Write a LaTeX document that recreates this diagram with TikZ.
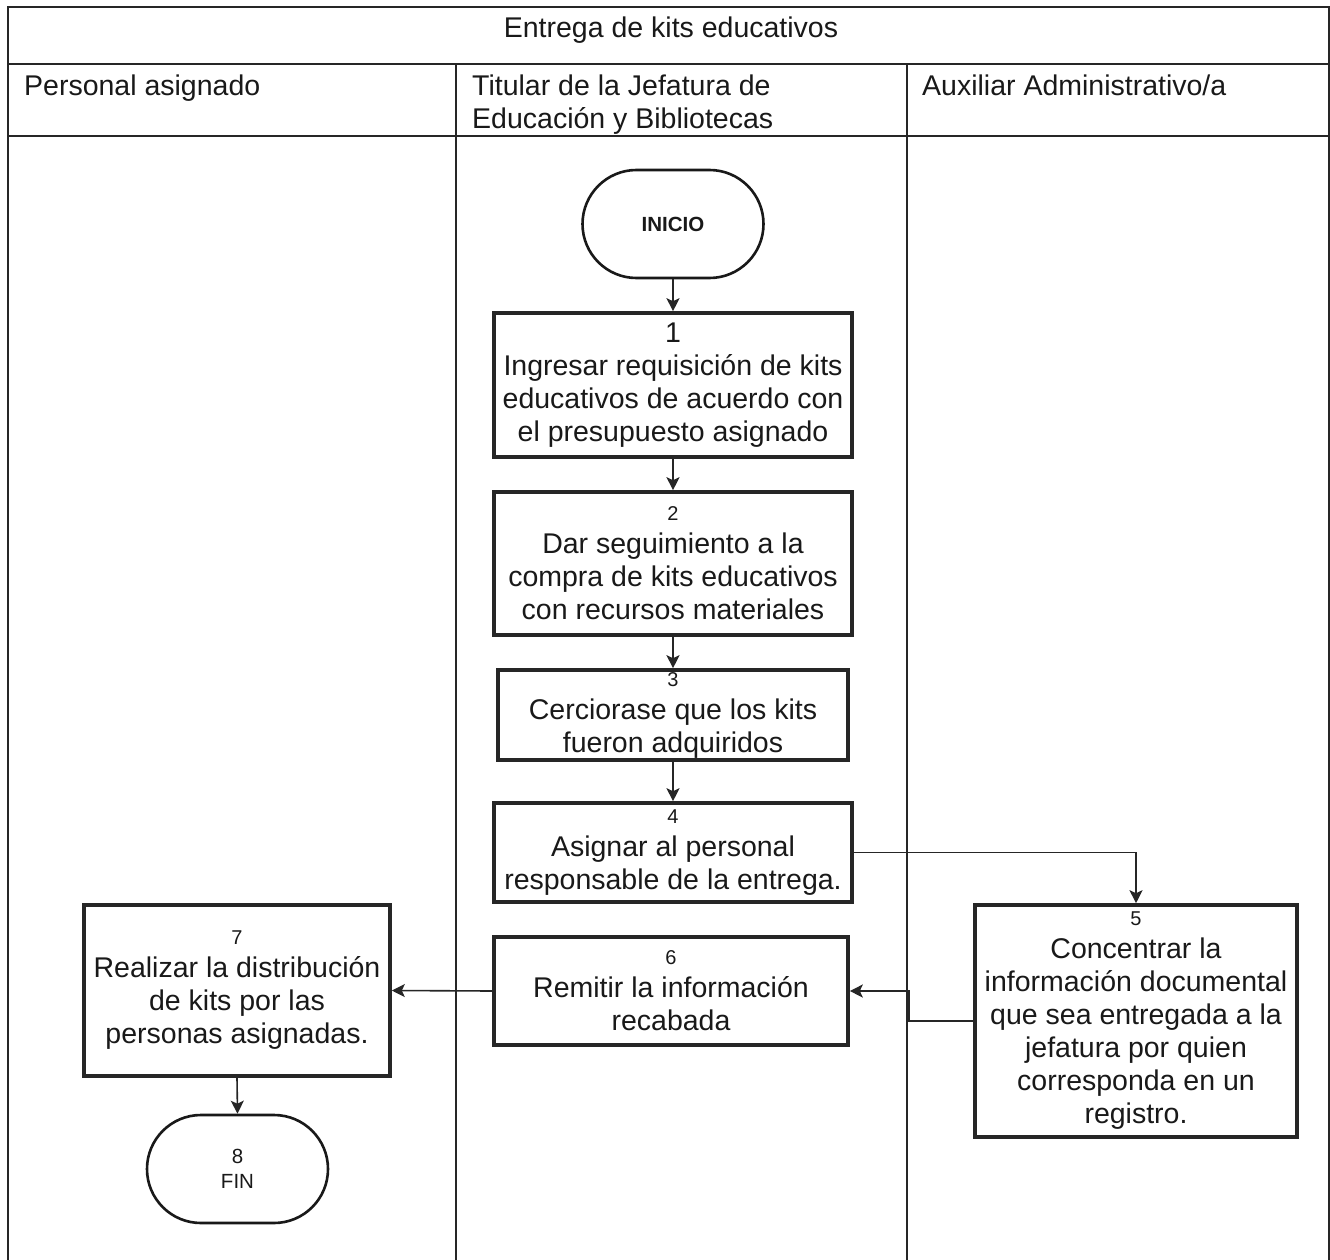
\documentclass[tikz,border=0pt]{standalone}
\usepackage{fontspec}
\setmainfont{Liberation Sans}
\usetikzlibrary{arrows.meta,shapes.misc}
\newcommand\kbody{\fontsize{28.5}{33}\selectfont}
\newcommand\knum{\fontsize{20}{33}\selectfont}
\newcommand\kterm{\fontsize{20.5}{25}\selectfont}
\begin{document}
\begin{tikzpicture}[x=1pt,y=-1pt,
  tbl/.style={line width=1.8pt, draw=black!85},
  stepbox/.style={draw=black!85, line width=3.6pt, rectangle, align=center, inner sep=0pt, font=\kbody, text=black!90},
  term/.style={draw=black!90, line width=2.6pt, rounded rectangle, minimum width=181pt, minimum height=108pt, align=center, inner sep=0pt, font=\kterm, text=black!90},
  hdr/.style={anchor=north west, align=left, inner sep=0pt, font=\kbody, text=black!90},
  arr/.style={line width=1.6pt, draw=black!85, -{Stealth[length=13pt,width=13pt,inset=3pt]}},
]
\useasboundingbox (0,0) rectangle (1330,1260);
\fill[white] (0,0) rectangle (1330,1260);

% table
\draw[tbl] (8,1260) -- (8,7) -- (1329,7) -- (1329,1260);
\draw[tbl] (8,64) -- (1329,64);
\draw[tbl] (8,136) -- (1329,136);
\draw[tbl] (456,64) -- (456,1260);
\draw[tbl] (907,64) -- (907,1260);

\node[anchor=base, inner sep=0pt, font=\kbody, text=black!90] (title) at (671,38) {Entrega de kits educativos};
\node[hdr] (h1) at (24,75) {Personal asignado};
\node[hdr] (h2) at (472,75) {Titular de la Jefatura de\\Educación y Bibliotecas};
\node[hdr] (h3) at (922,75) {Auxiliar Administrativo/a};

% nodes
\node[term] (ini) at (673,224) {\bfseries INICIO};
\node[stepbox, minimum width=358pt, minimum height=144pt] (b1) at (673,385)
  {1\\Ingresar requisición de kits\\educativos de acuerdo con\\el presupuesto asignado};
\node[stepbox, minimum width=358pt, minimum height=143pt] (b2) at (673,563.5)
  {{\knum 2}\\Dar seguimiento a la\\compra de kits educativos\\con recursos materiales};
\node[stepbox, minimum width=350pt, minimum height=90pt] (b3) at (673,715)
  {{\knum 3}\\Cerciorase que los kits\\fueron adquiridos};
\node[stepbox, minimum width=358pt, minimum height=99pt] (b4) at (673,852.5)
  {{\knum 4}\\Asignar al personal\\responsable de la entrega.};
\node[stepbox, minimum width=322pt, minimum height=232pt] (b5) at (1136,1021)
  {{\knum 5}\\Concentrar la\\información documental\\que sea entregada a la\\jefatura por quien\\corresponda en un\\registro.};
\node[stepbox, minimum width=354pt, minimum height=108pt] (b6) at (671,991)
  {{\knum 6}\\Remitir la información\\recabada};
\node[stepbox, minimum width=306pt, minimum height=171pt] (b7) at (237,990.5)
  {{\knum 7}\\Realizar la distribución\\de kits por las\\personas asignadas.};
\node[term] (fin) at (237.5,1169) {8\\FIN};

% connectors
\draw[arr] (ini.south) -- (b1.north);
\draw[arr] (b1.south) -- (b2.north);
\draw[arr] (b2.south) -- (b3.north);
\draw[arr] (b3.south) -- (b4.north);
\draw[arr] (b4.east) -| (b5.north);
\draw[arr] (b5.west) -- ++(-64,0) |- (b6.east);
\draw[arr] (b6.west) -- (b7.east);
\draw[arr] (b7.south) -- (fin.north);
\end{tikzpicture}
\end{document}
